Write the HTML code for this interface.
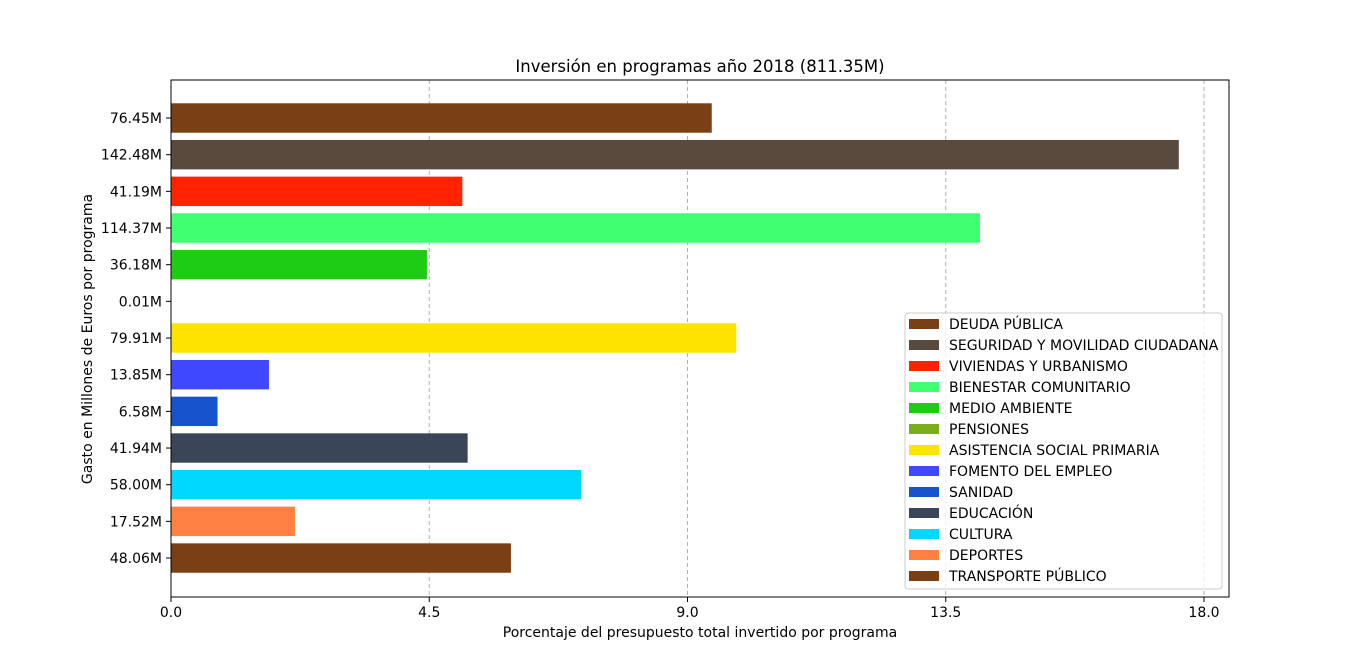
<!DOCTYPE html>
<html><head><meta charset="utf-8"><style>
html,body{margin:0;padding:0;background:#fff;overflow:hidden;}
svg{display:block;}
svg text{font-family:"DejaVu Sans","Liberation Sans",sans-serif;fill:#000;}
</style></head><body>
<svg width="1366" height="670" xmlns="http://www.w3.org/2000/svg">
<rect width="1366" height="670" fill="#fff"/>
<g id="grid"></g>
<g id="bars"></g>
<rect x="171" y="80" width="1058" height="517" fill="none" stroke="#000" stroke-width="1"/>
<g id="xaxis"></g><g id="yaxis"></g>
<text x="700" y="72" font-size="16.5" text-anchor="middle">Inversión en programas año 2018 (811.35M)</text>
<text x="700" y="637" font-size="14" text-anchor="middle">Porcentaje del presupuesto total invertido por programa</text>
<text transform="translate(92,339) rotate(-90)" font-size="14" text-anchor="middle">Gasto en Millones de Euros por programa</text>
<g id="legend"></g>
</svg>
<script>
const categories=["DEUDA PÚBLICA","SEGURIDAD Y MOVILIDAD CIUDADANA","VIVIENDAS Y URBANISMO","BIENESTAR COMUNITARIO","MEDIO AMBIENTE","PENSIONES","ASISTENCIA SOCIAL PRIMARIA","FOMENTO DEL EMPLEO","SANIDAD","EDUCACIÓN","CULTURA","DEPORTES","TRANSPORTE PÚBLICO"];
const amounts=[76.45,142.48,41.19,114.37,36.18,0.01,79.91,13.85,6.58,41.94,58.00,17.52,48.06];
const amountLabels=["76.45M","142.48M","41.19M","114.37M","36.18M","0.01M","79.91M","13.85M","6.58M","41.94M","58.00M","17.52M","48.06M"];
const total=811.35;
const colors=["#7b3f16","#5a4a3e","#ff2200","#40ff70","#1fcc14","#7aad1a","#ffe400","#4048ff","#1652cc","#3b4558","#00d8ff","#ff8040","#7b3f16"];
const xTicks=[0,4.5,9,13.5,18];
const xTickLabels=["0.0","4.5","9.0","13.5","18.0"];
const NS="http://www.w3.org/2000/svg";
const x=v=>171+v*(1033/18);
const y=i=>118+i*36.67;
function mk(t,a,p){const e=document.createElementNS(NS,t);for(const k in a)e.setAttribute(k,a[k]);p.appendChild(e);return e;}
const grid=document.getElementById('grid'),bars=document.getElementById('bars'),xa=document.getElementById('xaxis'),ya=document.getElementById('yaxis'),lg=document.getElementById('legend');
xTicks.forEach((t,i)=>{
 if(t>0){const g=mk('line',{x1:x(t),x2:x(t),y1:80,y2:597,stroke:'#b0b0b0','stroke-dasharray':'4,3'},grid);
 
 }
 mk('line',{x1:x(t),x2:x(t),y1:597,y2:602,stroke:'#000'},xa);
 const tx=mk('text',{x:x(t),y:617,'font-size':14,'text-anchor':'middle'},xa);tx.textContent=xTickLabels[i];
 
 
});
amounts.forEach((a,i)=>{
 const pct=a/total*100;
 const r=mk('rect',{x:171,y:y(i)-14.7,width:x(pct)-171,height:29.4,fill:colors[i]},bars);
 
 
 mk('line',{x1:166,x2:171,y1:y(i),y2:y(i),stroke:'#000'},ya);
 const t=mk('text',{x:162,y:y(i)+5,'font-size':14,'text-anchor':'end'},ya);t.textContent=amountLabels[i];
 
 
});
const box=mk('rect',{x:905,y:313,width:317,height:276,fill:'#fff','fill-opacity':0.8,stroke:'#ccc',rx:3},lg);


categories.forEach((c,i)=>{
 const yy=324+i*21;
 const g=mk('g',{},lg);
 
 
 mk('rect',{x:909,y:yy-5,width:30,height:10,fill:colors[i]},g);
 const t=mk('text',{x:949,y:yy+5,'font-size':14},g);t.textContent=c;
});
</script>
</body></html>
